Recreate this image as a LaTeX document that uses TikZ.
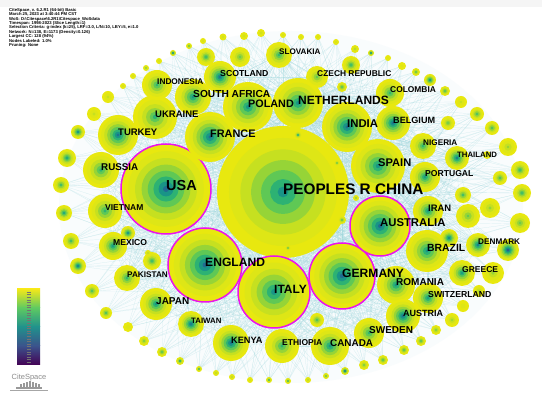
\documentclass[tikz,border=0pt]{standalone}
\usepackage{fontspec}
\setsansfont{Liberation Sans}
\usepackage{xcolor}
\usepackage{tikz}
\usetikzlibrary{positioning}

\definecolor{vir0}{RGB}{232,232,15}
\definecolor{vir1}{RGB}{222,230,22}
\definecolor{vir2}{RGB}{198,224,32}
\definecolor{vir3}{RGB}{150,212,55}
\definecolor{vir4}{RGB}{95,200,85}
\definecolor{vir5}{RGB}{45,178,115}
\definecolor{vir6}{RGB}{25,148,135}
\definecolor{vir7}{RGB}{32,108,145}
\definecolor{vir8}{RGB}{65,55,125}
\definecolor{linkcol}{RGB}{150,212,218}
\definecolor{hubring}{RGB}{235,20,235}
\definecolor{barA}{RGB}{243,232,26}
\definecolor{barB}{RGB}{94,201,98}
\definecolor{barC}{RGB}{33,145,140}
\definecolor{barD}{RGB}{59,82,139}
\definecolor{barE}{RGB}{68,1,84}

% ring disc of a node: name, radius, number of rings
\newcommand{\citedisc}[3]{%
  \foreach \col [count=\k from 0] in {vir0,vir1,vir2,vir3,vir4,vir5,vir6,vir7,vir8}{%
    \ifnum\k<#3\relax
      \pgfmathsetmacro{\rr}{#2*(1-\k/#3)^1.3}%
      \fill[\col] (#1) circle[radius=\rr];
    \fi}}

% name/x/y/radius/rings/centrality ring
\def\countries{china/283/192/66/7/0, usa/166/189/45/8/1, england/205/265/37/8/1,
  italy/274/292/36/7/1, germany/342/276/33/8/1, australia/380/226/30/8/1,
  netherlands/298/103/25/7/0, india/347/127/25/8/0, spain/378/166/27/7/0,
  france/210/137/25/8/0, poland/248/107/25/7/0, southafrica/193/97/18/7/0,
  ukraine/155/117/22/6/0, turkey/118/135/20/8/0, russia/101/170/18/6/0,
  scotland/220/77/16/8/0, indonesia/157/85/15/6/0, slovakia/279/55/13/6/0,
  czech/317/77/11/5/0, colombia/390/93/14/6/0, belgium/393/123/17/8/0,
  nigeria/423/146/13/6/0, thailand/457/158/12/8/0, portugal/425/177/15/7/0,
  iran/428/211/15/7/0, brazil/427/251/21/7/0, denmark/478/245/12/8/0,
  greece/462/273/13/7/0, romania/396/285/19/7/0, switzerland/428/298/15/7/0,
  austria/403/316/17/8/0, sweden/369/333/15/6/0, canada/330/346/19/7/0,
  ethiopia/282/346/17/6/0, kenya/231/343/18/8/0, taiwan/191/324/13/8/0,
  japan/156/304/16/7/0, pakistan/127/278/13/6/0, mexico/113/246/14/7/0,
  vietnam/105/211/17/6/0}

% name/text/font size
\def\labels{china/PEOPLES R CHINA/15.3, usa/USA/14.5, england/ENGLAND/12.1,
  italy/ITALY/12, germany/GERMANY/12.1, australia/AUSTRALIA/11.3,
  netherlands/NETHERLANDS/12, india/INDIA/11.3, spain/SPAIN/11.1,
  france/FRANCE/10.9, poland/POLAND/10.8, southafrica/SOUTH AFRICA/10.2,
  ukraine/UKRAINE/9.5, turkey/TURKEY/9.5, russia/RUSSIA/9.8,
  scotland/SCOTLAND/8.7, indonesia/INDONESIA/8.3, slovakia/SLOVAKIA/8.1,
  czech/CZECH REPUBLIC/8.4, colombia/COLOMBIA/8.4, belgium/BELGIUM/9.1,
  nigeria/NIGERIA/8.2, thailand/THAILAND/7.8, portugal/PORTUGAL/8.6,
  iran/IRAN/9.4, brazil/BRAZIL/10.4, denmark/DENMARK/8.2, greece/GREECE/8.5,
  romania/ROMANIA/10, switzerland/SWITZERLAND/8.7, austria/AUSTRIA/9,
  sweden/SWEDEN/10, canada/CANADA/9.9, ethiopia/ETHIOPIA/8.5, kenya/KENYA/9.2,
  taiwan/TAIWAN/7.8, japan/JAPAN/10, pakistan/PAKISTAN/8.2, mexico/MEXICO/8.6,
  vietnam/VIETNAM/8.5}

% unlabelled nodes: name/x/y/radius/rings
\def\minor{o1/61/185/8/6, o2/67/158/9/7, o3/78/132/7/8, o4/94/114/7/3,
  o5/108/97/6/3, o6/123/86/3/3, o7/133/76/3/3, o8/146/68/3/5, o9/159/61/3/3,
  o10/173/53/3/9, o11/189/46/3/6, o12/203/41/3/3, o13/223/37/3.5/3,
  o14/244/36/4/3, o15/261/33/4/3, o16/283/35/3/3, o17/301/37/3/3,
  o18/318/37/3/3, o19/336/42/3/3, o20/355/49/4/4, o21/371/53/3/9,
  o22/388/58/3/2, o23/402/66/4/2, o24/416/72/4/6, o25/430/80/6/8,
  o26/445/91/5/6, o27/461/102/6/3, o28/477/114/7/6, o29/492/128/7/6,
  o30/508/147/9/4, o31/520/170/9/6, o32/522/193/9/6, o33/520/223/10/5,
  o34/508/250/11/9, o35/493/273/11/4, o36/479/291/6/4, o37/463/306/6/2,
  o38/452/320/7/4, o39/436/330/5/5, o40/421/341/5/6, o41/404/350/5/6,
  o42/383/360/5/6, o43/364/365/5/5, o44/345/371/4/9, o45/326/376/3/6,
  o46/308/380/3/4, o47/288/381/3/7, o48/269/380/3/7, o49/250/380/3/3,
  o50/232/377/3/4, o51/216/373/3/4, o52/199/369/3/7, o53/180/361/4/7,
  o54/162/352/5/6, o55/144/341/5/5, o56/128/327/5/2, o57/106/313/6/6,
  o58/92/291/7/6, o59/78/266/8/8, o60/71/241/8/6, o61/64/213/8/7,
  m1/206/57/9/6, m2/240/57/10/5, m3/351/65/9/6, m4/342/87/5/6,
  m5/448/123/7/5, m6/487/155/4/4, m7/500/178/7/6, m8/463/195/8/6,
  m9/490/208/10/4, m10/468/216/12/5, m11/449/238/9/8, m12/317/320/7/6,
  m13/128/233/7/8, m14/152/261/9/6, m15/298/135/4/7, m16/337/163/3/6,
  m17/356/198/3/5, m18/342/220/4/6, m19/288/248/3/6, m20/148/253/3/4}

\tikzset{
  link/.style={linkcol, line width=0.2pt, opacity=0.4},
  centrality/.style={hubring, line width=1.5pt},
  country/.style={font=\sffamily\bfseries, inner sep=0pt, anchor=west}
}

\begin{document}
\begin{tikzpicture}[x=1pt, y=-1pt]
\useasboundingbox (0,0) rectangle (550,398);
\fill[white] (0,0) rectangle (550,398);
\fill[black!4] (0,0) rectangle (542,7);
\fill[linkcol!6] (291,207) ellipse[x radius=232, y radius=176];

% positions
\foreach \nm/\x/\y/\rad/\lev/\hub in \countries
  \coordinate (\nm) at (\x,\y);
\foreach \nm/\x/\y/\rad/\lev in \minor
  \coordinate (\nm) at (\x,\y);

% co-authorship links
\foreach \a/\ax/\ay/\ar/\al/\ah [count=\i] in \countries
  \foreach \b/\bx/\by/\br/\bl/\bh [count=\j] in \countries {
    \ifnum\j>\i\relax \draw[link] (\a) -- (\b); \fi}
\foreach \d/\dx/\dy/\dr/\dl in \minor
  \foreach \h in {china,usa,england,germany,italy,india,spain,australia,france,netherlands}
    \draw[link] (\d) -- (\h);

% nodes
\foreach \nm/\x/\y/\rad/\lev/\hub in \countries {
  \citedisc{\nm}{\rad}{\lev}
  \ifnum\hub=1\relax \draw[centrality] (\nm) circle[radius=\rad]; \fi}
\foreach \nm/\x/\y/\rad/\lev in \minor {
  \citedisc{\nm}{\rad}{\lev}}

\foreach \nm/\txt/\fs in \labels
  \node[country, font=\sffamily\bfseries\fontsize{\fs}{\fs}\selectfont]
    (t-\nm) at ([yshift=3pt]\nm) {\txt};

% header
\node[anchor=north west, align=left, inner sep=0pt,
      font=\sffamily\bfseries\fontsize{4.2}{4.4}\selectfont] (header) at (9,8)
  {CiteSpace, v. 6.2.R1 (64-bit) Basic\\
   March 25, 2023 at 3:40:44 PM CST\\
   WoS: D:\textbackslash Citespace\textbackslash 6.2R1\textbackslash Citespace\_WoSdata\\
   Timespan: 1998-2023 (Slice Length=1)\\
   Selection Criteria: g-index (k=25), LRF=3.0, L/N=10, LBY=5, e=1.0\\
   Network: N=138, E=1173 (Density=0.126)\\
   Largest CC: 128 (94\%)\\
   Nodes Labeled: 1.0\%\\
   Pruning: None};

% colour legend
\shade[top color=barA, bottom color=barB] (17,289) rectangle (40,308);
\shade[top color=barB, bottom color=barC] (17,308) rectangle (40,327);
\shade[top color=barC, bottom color=barD] (17,327) rectangle (40,346);
\shade[top color=barD, bottom color=barE] (17,346) rectangle (40,365);
\foreach \t in {0,...,27}
  \draw[black!55, line width=0.3pt] (26.5,{292+\t*2.6}) -- (30.5,{292+\t*2.6});

% logo
\node[font=\sffamily\fontsize{7.5}{7.5}\selectfont, text=black!45, inner sep=0pt]
  (logo) at (29,378) {CiteSpace};
\fill[black!40] (16,387) rectangle (42,389);
\foreach \bx/\bh in {20/3,23/4,26/5,29/5.5,32/4.5,35/3.5,38/2.5}
  \fill[black!40] (\bx,387) rectangle ++(2.2,-\bh);
\draw[black!35, line width=0.4pt] (10,390) -- (48,390);
\end{tikzpicture}
\end{document}
